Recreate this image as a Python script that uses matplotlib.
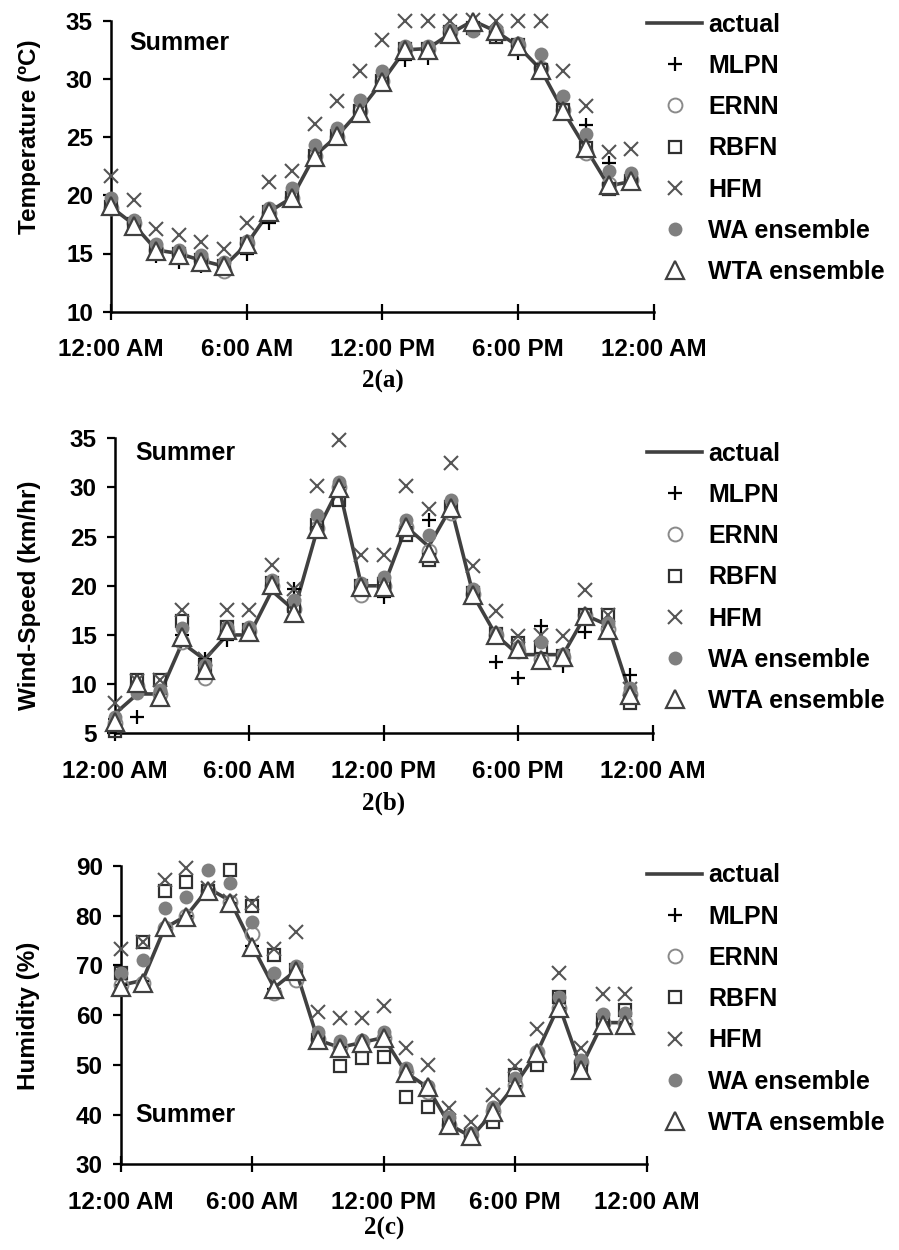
import matplotlib
matplotlib.use("Agg")
import matplotlib.pyplot as plt

plt.rcParams['font.family'] = ['Liberation Sans', 'DejaVu Sans']
plt.rcParams['font.weight'] = 'bold'

hours = list(range(24))
xtick_pos = [0, 6, 12, 18, 24]
xtick_labels = ["12:00 AM", "6:00 AM", "12:00 PM", "6:00 PM", "12:00 AM"]
series_names = ["actual", "MLPN", "ERNN", "RBFN", "HFM", "WA ensemble", "WTA ensemble"]

# ---- 2(a) Temperature ----
temp_actual = [19.0, 17.5, 15.3, 15.0, 14.4, 13.9, 15.8, 18.6, 19.8, 23.4, 25.1, 27.3, 29.8, 32.5,
               32.6, 33.9, 35.0, 34.1, 32.8, 30.8, 27.2, 24.0, 20.8, 21.2]
temp_mlpn = [19.0, 17.3, 14.8, 14.3, 13.9, 14.0, 15.0, 17.6, 19.6, 23.4, 25.0, 27.0, 29.6, 31.6,
             31.8, 34.0, 34.6, 33.6, 32.2, 30.6, 27.0, 26.0, 22.8, 21.0]
temp_ernn = [18.9, 17.6, 15.3, 15.0, 14.4, 13.5, 15.9, 18.5, 19.8, 23.4, 25.0, 27.2, 29.8, 32.6,
             32.6, 34.0, 34.5, 34.0, 32.9, 30.9, 27.3, 23.6, 21.0, 21.3]
temp_rbfn = [19.0, 17.5, 15.2, 15.0, 14.4, 13.9, 15.8, 18.6, 19.8, 23.4, 25.1, 27.2, 29.8, 32.6,
             32.6, 34.0, 34.4, 33.6, 32.9, 30.8, 27.3, 24.1, 20.5, 21.2]
temp_hfm = [21.7, 19.6, 17.1, 16.6, 16.0, 15.4, 17.6, 21.1, 22.1, 26.1, 28.1, 30.7, 33.3, 35.0,
            35.0, 35.0, 35.1, 35.0, 35.0, 35.0, 30.7, 27.7, 23.7, 24.0]
temp_wa = [19.8, 17.9, 15.8, 15.3, 14.9, 14.3, 16.1, 18.9, 20.6, 24.3, 25.8, 28.2, 30.7, 32.8,
           32.8, 34.2, 34.1, 34.3, 33.1, 32.1, 28.5, 25.3, 22.1, 21.9]
temp_wta = [19.1, 17.4, 15.2, 14.9, 14.3, 13.9, 15.8, 18.6, 19.8, 23.3, 25.1, 27.1, 29.7, 32.5,
            32.5, 33.9, 34.9, 34.1, 32.8, 30.8, 27.2, 24.1, 20.9, 21.2]

# ---- 2(b) Wind speed ----
wind_actual = [7.0, 9.0, 9.0, 14.2, 12.5, 15.0, 15.0, 19.5, 17.5, 25.5, 30.0, 20.0, 20.0, 26.0,
               24.0, 28.0, 19.0, 15.0, 13.0, 13.0, 13.0, 17.0, 16.0, 9.0]
wind_mlpn = [6.5, 6.7, 9.0, 15.0, 12.6, 14.5, 15.2, 19.8, 19.7, 26.0, 30.0, 20.0, 18.9, 26.0,
             26.7, 28.0, 19.5, 12.3, 10.6, 15.9, 11.8, 15.3, 15.8, 10.9]
wind_ernn = [6.0, 9.8, 9.0, 14.3, 10.6, 15.3, 15.4, 20.0, 17.6, 25.9, 30.0, 19.1, 20.0, 26.0,
             23.5, 27.4, 19.2, 15.0, 13.4, 12.6, 12.8, 17.0, 15.6, 9.0]
wind_rbfn = [5.2, 10.4, 10.4, 16.4, 11.8, 15.8, 15.5, 20.3, 17.9, 26.2, 28.7, 20.0, 20.2, 25.2,
             22.6, 28.0, 19.3, 15.1, 14.2, 13.8, 12.9, 17.0, 17.0, 8.1]
wind_hfm = [8.1, 10.3, 10.4, 17.5, 12.6, 17.5, 17.5, 22.1, 19.7, 30.2, 34.8, 23.1, 23.1, 30.2,
            27.8, 32.5, 22.0, 17.4, 14.9, 15.0, 14.9, 19.6, 17.0, 9.5]
wind_wa = [6.7, 9.1, 9.4, 15.7, 11.9, 15.8, 15.8, 20.6, 18.6, 27.2, 30.6, 20.3, 20.9, 26.7,
           25.2, 28.7, 19.7, 15.2, 13.8, 14.3, 13.1, 16.8, 16.2, 9.6]
wind_wta = [6.2, 10.1, 8.7, 14.8, 11.4, 15.5, 15.3, 20.1, 17.2, 25.8, 29.9, 19.9, 19.9, 26.0,
            23.3, 27.9, 19.1, 15.0, 13.6, 12.5, 12.8, 16.9, 15.5, 8.9]

# ---- 2(c) Humidity ----
hum_actual = [66.0, 67.0, 77.5, 80.0, 85.5, 83.0, 74.0, 65.5, 69.0, 55.0, 53.5, 54.5, 55.5, 48.5,
              45.5, 38.0, 35.5, 40.5, 46.0, 52.5, 62.0, 49.5, 58.5, 58.5]
hum_mlpn = [66.0, 66.8, 77.8, 80.0, 85.2, 82.5, 74.0, 65.3, 69.0, 55.2, 53.5, 54.5, 55.6, 48.5,
            45.7, 38.0, 35.7, 40.7, 45.8, 52.4, 61.5, 49.2, 58.2, 58.2]
hum_ernn = [66.0, 66.5, 77.5, 80.0, 85.0, 82.8, 76.3, 64.4, 67.1, 55.2, 53.5, 54.5, 55.5, 48.6,
            44.6, 38.0, 35.8, 40.8, 46.0, 52.5, 61.5, 50.5, 58.5, 58.5]
hum_rbfn = [68.4, 74.8, 85.0, 86.7, 85.0, 89.2, 82.0, 72.1, 69.0, 55.0, 49.7, 51.3, 51.5, 43.6,
            41.6, 38.0, 35.6, 38.6, 48.0, 50.0, 63.7, 49.5, 59.0, 61.0]
hum_hfm = [73.4, 74.8, 87.2, 89.5, 85.5, 83.0, 82.6, 73.4, 76.8, 60.7, 59.5, 59.5, 61.9, 53.3,
           50.0, 41.3, 38.6, 44.0, 49.8, 57.2, 68.4, 53.3, 64.2, 64.2]
hum_wa = [68.4, 71.0, 81.5, 83.8, 89.2, 86.6, 78.8, 68.4, 69.8, 56.7, 54.7, 55.0, 56.7, 49.3,
          45.8, 39.6, 36.2, 41.6, 47.3, 52.6, 63.7, 51.0, 60.2, 60.5]
hum_wta = [65.7, 66.4, 77.7, 79.7, 85.0, 82.6, 73.8, 65.2, 68.8, 55.0, 53.3, 54.3, 55.5, 48.3,
           45.6, 37.9, 35.6, 40.6, 45.6, 52.3, 61.4, 49.0, 58.0, 58.0]

FS = 17.5
LFS = 18
LINE_C = '#404040'

fig = plt.figure(figsize=(8.99, 12.5), dpi=100)
W, H = 899.0, 1250.0


def px_rect(x0, x1, ytop, ybot):
    return [x0 / W, 1 - ybot / H, (x1 - x0) / W, (ybot - ytop) / H]


panels = [
    dict(rect=px_rect(111, 654, 20.7, 311.7), ylim=(10, 35), yticks=[10, 15, 20, 25, 30, 35],
         data=[temp_actual, temp_mlpn, temp_ernn, temp_rbfn, temp_hfm, temp_wa, temp_wta],
         ylabel="Temperature (ºC)", ylab_xy=(30, 137), caption="2(a)", cap_y=381,
         summer=(129, 43), leg_y=22.7),
    dict(rect=px_rect(115, 652.7, 438.3, 733.3), ylim=(5, 35), yticks=[5, 10, 15, 20, 25, 30, 35],
         data=[wind_actual, wind_mlpn, wind_ernn, wind_rbfn, wind_hfm, wind_wa, wind_wta],
         ylabel="Wind-Speed (km/hr)", ylab_xy=(30, 595), caption="2(b)", cap_y=803,
         summer=(135, 453), leg_y=451.7),
    dict(rect=px_rect(120.7, 646.7, 866, 1164.3), ylim=(30, 90), yticks=[30, 40, 50, 60, 70, 80, 90],
         data=[hum_actual, hum_mlpn, hum_ernn, hum_rbfn, hum_hfm, hum_wa, hum_wta],
         ylabel="Humidity (%)", ylab_xy=(29, 1016), caption="2(c)", cap_y=1228,
         summer=(135, 1115), leg_y=873.3),
]

for p in panels:
    ax = fig.add_axes(p['rect'])
    actual, mlpn, ernn, rbfn, hfm, wa, wta = p['data']
    ax.plot(hours, actual, '-', color=LINE_C, lw=2.6, label=series_names[0], zorder=2, clip_on=False)
    ax.plot(hours, mlpn, '+', ls='none', color='black', ms=10, mew=1.6, label=series_names[1], zorder=3, clip_on=False)
    ax.plot(hours, ernn, 'o', ls='none', mfc='none', mec='#8a8a8a', ms=10, mew=1.4, label=series_names[2], zorder=3, clip_on=False)
    ax.plot(hours, rbfn, 's', ls='none', mfc='none', mec='#303030', ms=9, mew=1.6, label=series_names[3], zorder=3, clip_on=False)
    ax.plot(hours, hfm, 'x', ls='none', color='#555555', ms=10, mew=1.5, label=series_names[4], zorder=4, clip_on=False)
    ax.plot(hours, wa, 'o', ls='none', color='#7f7f7f', ms=10, mew=0, label=series_names[5], zorder=4, clip_on=False)
    ax.plot(hours, wta, '^', ls='none', mfc='white', mec='#404040', ms=12.5, mew=1.6, label=series_names[6], zorder=5, clip_on=False)

    ax.set_xlim(0, 24)
    ax.set_ylim(*p['ylim'])
    ax.set_xticks(xtick_pos)
    ax.set_xticklabels(xtick_labels)
    ax.set_yticks(p['yticks'])
    for s in ['top', 'right']:
        ax.spines[s].set_visible(False)
    for s in ['left', 'bottom']:
        ax.spines[s].set_linewidth(1.8)
    ax.tick_params(axis='x', direction='inout', length=12, width=1.6, pad=13, labelsize=FS)
    ax.tick_params(axis='y', direction='out', length=6, width=1.6, pad=7, labelsize=FS)
    for lab in ax.get_xticklabels() + ax.get_yticklabels():
        lab.set_fontweight('bold')

    fig.text(p['ylab_xy'][0] / W, 1 - p['ylab_xy'][1] / H, p['ylabel'], rotation=90,
             ha='center', va='center', fontsize=FS, fontweight='bold')
    fig.text(p['summer'][0] / W, 1 - p['summer'][1] / H, "Summer", ha='left', va='center',
             fontsize=LFS, fontweight='bold')
    cx = (p['rect'][0] + p['rect'][2] / 2)
    fig.text(cx, 1 - p['cap_y'] / H, p['caption'], ha='center', va='center', fontsize=18,
             fontweight='bold', family=['Liberation Serif', 'DejaVu Serif'])

    leg = ax.legend(loc='upper left', bbox_to_anchor=(647 / W, 1 - (p['leg_y'] - 10) / H),
                    bbox_transform=fig.transFigure, frameon=False, fontsize=LFS,
                    handlelength=2.2, handletextpad=0.25, labelspacing=0.69,
                    borderpad=0, borderaxespad=0, numpoints=1)
    for t in leg.get_texts():
        t.set_fontweight('bold')

fig.savefig("out.png", dpi=100)
